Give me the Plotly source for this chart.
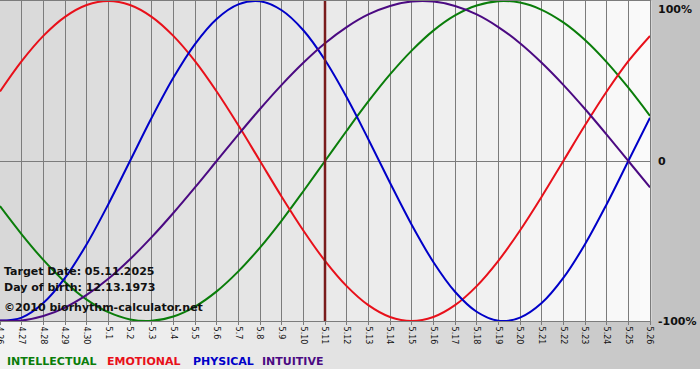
import plotly.graph_objects as go

# ---- data ----
dates = ["4.26", "4.27", "4.28", "4.29", "4.30", "5.1", "5.2", "5.3", "5.4", "5.5",
         "5.6", "5.7", "5.8", "5.9", "5.10", "5.11", "5.12", "5.13", "5.14", "5.15",
         "5.16", "5.17", "5.18", "5.19", "5.20", "5.21", "5.22", "5.23", "5.24", "5.25", "5.26"]

intellectual = [-28.2, -45.8, -61.8, -75.6, -86.6, -94.5, -99.0, -99.9, -97.2, -91.0,
                -81.5, -69.0, -54.1, -37.2, -18.9, 0.0, 18.9, 37.2, 54.1, 69.0,
                81.5, 91.0, 97.2, 99.9, 99.0, 94.5, 86.6, 75.6, 61.8, 45.8, 28.2]
emotional = [43.4, 62.4, 78.2, 90.1, 97.5, 100.0, 97.5, 90.1, 78.2, 62.4,
             43.4, 22.3, 0.0, -22.3, -43.4, -62.4, -78.2, -90.1, -97.5, -100.0,
             -97.5, -90.1, -78.2, -62.4, -43.4, -22.3, 0.0, 22.3, 43.4, 62.4, 78.2]
physical = [-99.8, -97.9, -88.8, -73.1, -52.0, -27.0, 0.0, 27.0, 52.0, 73.1,
            88.8, 97.9, 99.8, 94.2, 81.7, 63.1, 39.8, 13.6, -13.6, -39.8,
            -63.1, -81.7, -94.2, -99.8, -97.9, -88.8, -73.1, -52.0, -27.0, 0.0, 27.0]
intuitive = [-99.7, -99.7, -96.9, -91.6, -83.7, -73.6, -61.4, -47.6, -32.5, -16.5,
             0.0, 16.5, 32.5, 47.6, 61.4, 73.6, 83.7, 91.6, 96.9, 99.7,
             99.7, 96.9, 91.6, 83.7, 73.6, 61.4, 47.6, 32.5, 16.5, 0.0, -16.5]

series_names = ["INTELLECTUAL", "EMOTIONAL", "PHYSICAL", "INTUITIVE"]
series_colors = ["#0a7d0a", "#e8101a", "#0000c8", "#4b0a82"]
series_values = [intellectual, emotional, physical, intuitive]

y_tick_vals = [100, 0, -100]
y_tick_text = ["100%", "0", "-100%"]

target_date = "5.11"
info_lines = ["Target Date: 05.11.2025", "Day of birth: 12.13.1973", "\u00a92010 biorhythm-calculator.net"]

# ---- geometry ----
W, H = 700, 380
ML, MR, MT, MB = 0, 50, 1, 59
PW, PH = W - ML - MR, H - MT - MB


def px_x(xpx):
    return (xpx - ML) / PW


def px_y(ypx):
    return (H - MB - ypx) / PH


# ---- figure ----
fig = go.Figure()
for name, col, vals in zip(series_names, series_colors, series_values):
    fig.add_trace(go.Scatter(x=dates, y=vals, mode="lines", name=name,
                             line=dict(color=col, width=2, shape="spline", smoothing=1.0),
                             showlegend=False, hoverinfo="skip"))

shapes = []
# page gradient (light left -> gray right), white strip at the very bottom
nb = 70
for i in range(nb):
    xa, xb = i * W / nb, (i + 1) * W / nb
    xm = (xa + xb) / 2 / W
    v = int(round(242 - 50 * xm ** 1.6))
    shapes.append(dict(type="rect", xref="paper", yref="paper", x0=px_x(xa), x1=px_x(xb + 0.5),
                       y0=px_y(369), y1=px_y(-5), fillcolor=f"rgb({v},{v},{v})",
                       line=dict(width=0), layer="below"))
# plot area gradient
nb2 = 65
for i in range(nb2):
    xm = (i + 0.5) / nb2
    v = int(round(216 + 34 * xm))
    shapes.append(dict(type="rect", xref="x domain", yref="y domain", x0=i / nb2, x1=(i + 1) / nb2 + 0.002,
                       y0=0, y1=1, fillcolor=f"rgb({v},{v},{v})", line=dict(width=0), layer="below"))
# target date marker
ti = dates.index(target_date)
shapes.append(dict(type="line", xref="x", yref="y domain", x0=ti, x1=ti, y0=0, y1=1,
                   line=dict(color="#7a1c1c", width=2.5), layer="above"))

annotations = []
for txt, yc in zip(y_tick_text, y_tick_vals):
    annotations.append(dict(text="<b>" + txt + "</b>", xref="x domain", x=1, xanchor="left", xshift=6,
                            yref="y", y=yc, yanchor="top" if yc == 100 else "middle",
                            showarrow=False, font=dict(family="DejaVu Sans", size=11, color="#111111")))
for txt, ypx in zip(info_lines, [271, 287, 307]):
    annotations.append(dict(text="<b>" + txt + "</b>", xref="paper", x=px_x(2), xanchor="left",
                            yref="paper", y=px_y(ypx), yanchor="middle", showarrow=False,
                            font=dict(family="DejaVu Sans", size=11, color="#111111")))
for name, col, xpx in zip(series_names, series_colors, [5, 105, 191, 260]):
    annotations.append(dict(text="<b>" + name + "</b>", xref="paper", x=px_x(xpx), xanchor="left",
                            yref="paper", y=px_y(361), yanchor="middle", showarrow=False,
                            font=dict(family="DejaVu Sans", size=11, color=col)))

fig.update_layout(
    width=W, height=H,
    margin=dict(l=ML, r=MR, t=MT, b=MB, autoexpand=False),
    paper_bgcolor="white", plot_bgcolor="#e6e6e6",
    shapes=shapes, annotations=annotations,
    xaxis=dict(type="category", range=[0, len(dates) - 1], showgrid=True, gridcolor="#7c7c7c", gridwidth=1,
               tickangle=90, ticks="outside", ticklen=3, tickcolor="#7c7c7c", automargin=False,
               tickfont=dict(family="DejaVu Sans", size=8, color="#111111"),
               showline=True, linecolor="#7c7c7c", mirror=True, zeroline=False, fixedrange=True),
    yaxis=dict(range=[-100, 100], tickvals=y_tick_vals, showticklabels=False, showgrid=True,
               gridcolor="#7c7c7c", gridwidth=1, zeroline=False, showline=True, linecolor="#7c7c7c",
               mirror=True, fixedrange=True, automargin=False),
)

fig.write_html("out.html")
